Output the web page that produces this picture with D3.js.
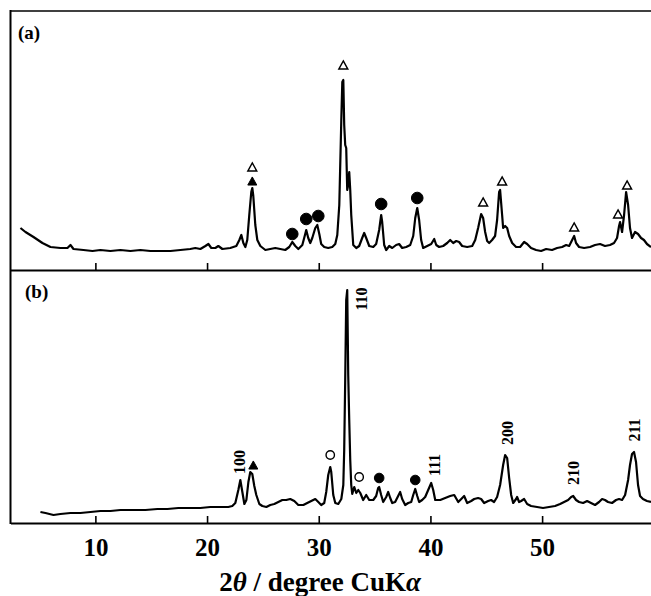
<!DOCTYPE html>
<html>
<head>
<meta charset="utf-8">
<script src="https://cdn.jsdelivr.net/npm/d3@7"></script>
<style>
  html, body { margin: 0; padding: 0; background: #fff; }
  svg { display: block; }
  text { font-family: "Liberation Serif", "Times New Roman", serif; font-weight: bold; fill: #000; }
</style>
</head>
<body>
<svg id="chart" width="651" height="596"></svg>
<script>
// 2θ range shown on the shared x axis
const twoThetaRange = [2.4, 59.75];
const tickValues = [10, 20, 30, 40, 50];

// Pattern (a): [2θ, intensity (a.u.)]
const patternA = [
  [3.29,42],[3.74,38],[4.46,33],[5.26,27],[5.98,23],[6.87,22],[7.50,22],[7.77,25],[8.04,21],
  [8.93,20],[9.74,19],[10.45,20],[11.35,19],[12.24,20],[13.14,19],[14.03,20],[14.93,19],
  [15.82,19],[16.72,19],[17.61,20],[18.50,21],[18.95,22],[19.40,21],[19.85,24],[20.12,26],
  [20.38,22],[20.74,22],[21.01,24],[21.37,21],[22.08,22],[22.62,24],[22.89,30],[23.07,35],
  [23.25,27],[23.43,23],[23.60,30],[23.78,55],[23.96,78],[24.05,82],[24.14,74],[24.32,45],
  [24.50,30],[24.77,24],[25.22,20],[25.66,21],[26.11,22],[26.56,21],[27.00,20],[27.36,23],
  [27.63,28],[27.90,24],[28.17,21],[28.53,25],[28.79,36],[28.88,40],[29.06,32],[29.24,27],
  [29.42,32],[29.69,42],[29.87,45],[30.05,36],[30.22,26],[30.49,23],[30.85,22],[31.21,23],
  [31.48,26],[31.66,35],[31.84,65],[32.02,150],[32.11,188],[32.20,190],[32.28,145],[32.37,125],
  [32.46,122],[32.55,80],[32.64,85],[32.73,98],[32.82,80],[32.91,55],[33.09,25],[33.36,22],
  [33.62,24],[33.89,32],[34.07,37],[34.25,32],[34.52,24],[34.88,23],[35.14,26],[35.41,40],
  [35.59,55],[35.68,48],[35.86,25],[36.04,20],[36.31,24],[36.58,22],[36.93,25],[37.20,26],
  [37.47,22],[37.83,23],[38.19,25],[38.46,34],[38.64,52],[38.82,62],[38.99,50],[39.17,30],
  [39.35,22],[39.71,24],[40.07,26],[40.34,31],[40.52,25],[40.78,23],[41.14,24],[41.50,27],
  [41.77,30],[42.04,27],[42.31,29],[42.57,28],[42.84,24],[43.29,23],[43.74,24],[44.01,30],
  [44.27,42],[44.54,56],[44.72,52],[44.90,38],[45.08,29],[45.26,27],[45.52,30],[45.79,34],
  [45.97,50],[46.15,78],[46.24,80],[46.42,55],[46.51,42],[46.69,44],[46.87,42],[47.05,34],
  [47.32,27],[47.67,23],[48.03,23],[48.39,28],[48.66,26],[49.01,22],[49.46,20],[49.91,19],
  [50.36,21],[50.89,20],[51.34,22],[51.79,23],[52.15,25],[52.42,24],[52.69,30],[52.87,34],
  [53.04,27],[53.31,23],[53.76,22],[54.29,23],[54.74,25],[55.19,26],[55.63,24],[56.08,25],
  [56.44,27],[56.71,32],[56.89,44],[56.98,48],[57.16,38],[57.34,55],[57.52,78],[57.70,65],
  [57.87,42],[58.05,32],[58.32,38],[58.59,36],[58.86,32],[59.12,30],[59.39,26],[59.75,23]
];

// Pattern (b): [2θ, intensity (a.u.)]
const patternB = [
  [5.08,11],[5.53,10],[6.25,8],[6.87,9],[7.77,10],[8.66,10],[9.56,11],[10.45,12],[11.35,12],
  [12.24,13],[13.40,13],[14.48,13],[15.55,14],[16.45,14],[17.43,15],[18.50,15],[19.40,15],
  [20.29,16],[21.19,16],[21.90,16],[22.26,17],[22.53,20],[22.80,33],[22.98,43],[23.16,31],
  [23.34,19],[23.52,23],[23.70,41],[23.87,51],[24.05,49],[24.23,37],[24.41,28],[24.68,19],
  [24.95,17],[25.31,16],[25.66,18],[26.02,19],[26.38,21],[26.74,23],[27.09,23],[27.45,24],
  [27.81,22],[28.17,18],[28.62,18],[28.97,20],[29.33,22],[29.69,24],[29.96,21],[30.22,18],
  [30.49,20],[30.67,31],[30.85,48],[31.03,56],[31.12,51],[31.30,28],[31.48,20],[31.75,19],
  [32.02,24],[32.20,38],[32.28,73],[32.37,143],[32.46,223],[32.55,233],[32.64,148],[32.73,103],
  [32.82,63],[32.91,38],[33.00,29],[33.18,36],[33.36,30],[33.54,33],[33.72,30],[33.98,23],
  [34.25,28],[34.52,23],[34.88,23],[35.14,27],[35.32,35],[35.41,36],[35.59,28],[35.77,21],
  [36.04,26],[36.22,31],[36.40,25],[36.58,20],[36.84,21],[37.11,27],[37.29,31],[37.47,24],
  [37.74,18],[38.01,20],[38.28,21],[38.46,28],[38.64,34],[38.82,27],[38.99,21],[39.26,23],
  [39.53,26],[39.80,33],[40.07,40],[40.25,33],[40.43,23],[40.88,23],[41.32,25],[41.77,27],
  [42.13,28],[42.49,21],[42.76,24],[43.02,27],[43.29,20],[43.65,22],[43.92,24],[44.27,25],
  [44.54,24],[44.81,20],[45.17,22],[45.43,23],[45.70,21],[45.97,26],[46.24,38],[46.51,58],
  [46.69,68],[46.87,65],[47.05,45],[47.23,28],[47.41,20],[47.67,24],[47.76,26],[47.94,21],
  [48.12,22],[48.39,24],[48.66,19],[49.01,17],[49.55,16],[50.08,15],[50.62,16],[51.16,17],
  [51.61,19],[51.97,21],[52.33,23],[52.60,26],[52.78,27],[53.04,23],[53.31,21],[53.67,20],
  [54.03,22],[54.38,20],[54.74,18],[55.10,21],[55.37,24],[55.63,23],[55.90,21],[56.26,20],
  [56.62,23],[56.89,24],[57.16,23],[57.43,28],[57.70,43],[57.87,58],[58.05,69],[58.23,71],
  [58.41,61],[58.59,38],[58.77,27],[59.03,24],[59.39,22],[59.75,21]
];

// Phase markers for (a): [2θ, height]
const markersA_openTriangle = [[24.05,103],[32.20,205],[44.72,68],[46.42,89],[52.87,43],[56.80,56],[57.61,85]];
const markersA_filledTriangle = [[24.05,89]];
const markersA_filledCircle = [[27.63,36],[28.88,51],[29.96,54],[35.59,66],[38.82,72]];

// Phase markers for (b)
const markersB_filledTriangle = [[24.14,58]];
const markersB_openCircle = [[31.03,68],[33.62,46]];
const markersB_filledCircle = [[35.41,45],[38.64,43]];

// Miller indices for (b): [2θ, height, label]
const hklLabels = [
  [22.98,61,"100"],[33.89,224,"110"],[40.43,58,"111"],
  [46.96,90,"200"],[52.87,50,"210"],[58.32,93,"211"]
];

const svg = d3.select("#chart");

const x = d3.scaleLinear().domain(twoThetaRange).range([10.5, 651]);
const yA = d3.scaleLinear().domain([0, 260]).range([270, 10]);
const yB = d3.scaleLinear().domain([0, 253]).range([523, 270]);

// frame lines
const frame = svg.append("g").attr("stroke", "#000").attr("fill", "none");
frame.append("line").attr("x1", 10.5).attr("x2", 651).attr("y1", 11).attr("y2", 11).attr("stroke-width", 1.6);
frame.append("line").attr("x1", 10.5).attr("x2", 10.5).attr("y1", 10).attr("y2", 524).attr("stroke-width", 2);

// axes with inward ticks
function drawAxis(yPos, showLabels) {
  const ax = d3.axisBottom(x).tickValues(tickValues).tickSize(-7).tickSizeOuter(0).tickPadding(15)
    .tickFormat(showLabels ? d3.format("d") : () => "");
  const g = svg.append("g").attr("transform", `translate(0,${yPos})`).call(ax);
  g.select(".domain").attr("stroke-width", 2);
  g.selectAll(".tick line").attr("stroke-width", 1.6);
  g.selectAll(".tick text").attr("font-size", 25).attr("font-family", "Liberation Serif").attr("font-weight", "bold");
  return g;
}
drawAxis(270, false);
drawAxis(523, true);

// patterns
const lineA = d3.line().x(d => x(d[0])).y(d => yA(d[1]));
const lineB = d3.line().x(d => x(d[0])).y(d => yB(d[1]));
svg.append("path").datum(patternA).attr("d", lineA)
  .attr("fill", "none").attr("stroke", "#000").attr("stroke-width", 2.2).attr("stroke-linejoin", "round");
svg.append("path").datum(patternB).attr("d", lineB)
  .attr("fill", "none").attr("stroke", "#000").attr("stroke-width", 2.2).attr("stroke-linejoin", "round");

// marker helpers
function triangles(data, yScale, filled, size) {
  const w = size, h = size * 0.9;
  svg.append("g").selectAll("path").data(data).join("path")
    .attr("d", d => {
      const cx = x(d[0]), cy = yScale(d[1]);
      return `M${cx},${cy - h / 2}L${cx + w / 2},${cy + h / 2}L${cx - w / 2},${cy + h / 2}Z`;
    })
    .attr("fill", filled ? "#000" : "#fff")
    .attr("stroke", "#000").attr("stroke-width", filled ? 1 : 1.4);
}
function circles(data, yScale, filled, r) {
  svg.append("g").selectAll("circle").data(data).join("circle")
    .attr("cx", d => x(d[0])).attr("cy", d => yScale(d[1])).attr("r", r)
    .attr("fill", filled ? "#000" : "#fff")
    .attr("stroke", "#000").attr("stroke-width", filled ? 1 : 1.4);
}

triangles(markersA_openTriangle, yA, false, 9);
triangles(markersA_filledTriangle, yA, true, 9);
circles(markersA_filledCircle, yA, true, 5.8);

triangles(markersB_filledTriangle, yB, true, 9);
circles(markersB_openCircle, yB, false, 4.2);
circles(markersB_filledCircle, yB, true, 4.8);

svg.append("g").selectAll("text").data(hklLabels).join("text")
  .attr("transform", d => `translate(${x(d[0]) + 5},${yB(d[1])}) rotate(-90)`)
  .attr("text-anchor", "middle")
  .attr("font-size", 16)
  .text(d => d[2]);

// panel tags
svg.append("text").attr("x", 18).attr("y", 39).attr("font-size", 19).text("(a)");
svg.append("text").attr("x", 25).attr("y", 298).attr("font-size", 19).text("(b)");

// x-axis title
const title = svg.append("text").attr("x", 320).attr("y", 591).attr("text-anchor", "middle").attr("font-size", 27);
title.append("tspan").text("2");
title.append("tspan").attr("font-style", "italic").text("θ");
title.append("tspan").text(" / degree CuK");
title.append("tspan").attr("font-style", "italic").text("α");
</script>
</body>
</html>
